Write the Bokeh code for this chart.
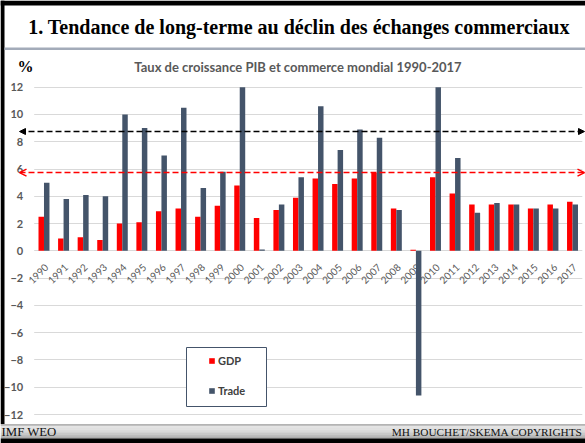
from math import pi
from bokeh.plotting import figure
from bokeh.models import (ColumnDataSource, Range1d, FixedTicker, BoxAnnotation,
                          Label, Legend, LegendItem, Arrow, NormalHead, OpenHead)
from bokeh.transform import dodge
from bokeh.core.properties import value
from bokeh.embed import file_html
from bokeh.resources import INLINE

# ---------------- data ----------------
years = [1990, 1991, 1992, 1993, 1994, 1995, 1996, 1997, 1998, 1999,
         2000, 2001, 2002, 2003, 2004, 2005, 2006, 2007, 2008, 2009,
         2010, 2011, 2012, 2013, 2014, 2015, 2016, 2017]
year_labels = ["1990", "1991", "1992", "1993", "1994", "1995", "1996", "1997", "1998", "1999",
               "2000", "2001", "2002", "2003", "2004", "2005", "2006", "2007", "2008", "2009",
               "2010", "2011", "2012", "2013", "2014", "2015", "2016", "2017"]
gdp = [2.5, 0.9, 1.0, 0.8, 2.0, 2.1, 2.9, 3.1, 2.5, 3.3,
       4.8, 2.4, 3.0, 3.9, 5.3, 4.9, 5.3, 5.7, 3.1, 0.08,
       5.4, 4.2, 3.4, 3.4, 3.4, 3.1, 3.4, 3.6]
trade = [5.0, 3.8, 4.1, 4.0, 10.0, 9.0, 7.0, 10.5, 4.6, 5.8,
         12.0, 0.1, 3.4, 5.4, 10.6, 7.4, 8.9, 8.3, 3.0, -10.6,
         12.0, 6.8, 2.8, 3.5, 3.4, 3.1, 3.1, 3.4]
y_ticks = [-12, -10, -8, -6, -4, -2, 0, 2, 4, 6, 8, 10, 12]
trade_ref_level = 8.75
gdp_ref_level = 5.74
series_names = ["GDP", "Trade"]

title_text = "1. Tendance de long-terme au déclin des échanges commerciaux"
chart_title = "Taux de croissance PIB et commerce mondial 1990-2017"
unit_text = "%"
source_text = "IMF WEO"
copyright_text = "MH BOUCHET/SKEMA COPYRIGHTS"

# ---------------- layout (canvas pixels) ----------------
W, H = 585, 443
PL, PR, PT, PB = 33.7, 581.8, 86.7, 414.0     # plot-area edges on the canvas
n = len(years)
px_per_year = (PR - PL) / n
px_per_unit = (PB - PT) / (y_ticks[-1] - y_ticks[0])
x_left_edge = years[0] - 0.5
x_lo = x_left_edge - PL / px_per_year
x_hi = x_left_edge + (W - PL) / px_per_year
y_lo = y_ticks[0] - (H - PB) / px_per_unit
y_hi = y_ticks[-1] + PT / px_per_unit


def cx(px):  # canvas px -> x data
    return x_lo + px / px_per_year


GDP_COLOR = "#ff0000"
TRADE_COLOR = "#44546a"
LABEL_GRAY = "#595959"

src = ColumnDataSource(dict(year=years, label=year_labels, gdp=gdp, trade=trade))

p = figure(width=W, height=H, x_range=Range1d(x_lo, x_hi), y_range=Range1d(y_lo, y_hi),
           output_backend="svg", toolbar_location=None, x_axis_location=None,
           min_border=0, min_border_left=0, min_border_right=0, min_border_top=0, min_border_bottom=0,
           outline_line_color=None, background_fill_color="white", border_fill_color="white")

p.yaxis.fixed_location = x_left_edge
p.yaxis.ticker = FixedTicker(ticks=y_ticks)
p.yaxis.axis_line_color = None
p.yaxis.major_tick_line_color = None
p.yaxis.minor_tick_line_color = None
p.yaxis.major_tick_out = 0
p.yaxis.major_tick_in = 0
p.yaxis.major_label_standoff = 11
p.yaxis.major_label_text_font = "Lato"
p.yaxis.major_label_text_font_style = "bold"
p.yaxis.major_label_text_font_size = "11px"
p.yaxis.major_label_text_color = LABEL_GRAY
p.ygrid.grid_line_color = "#d9d9d9"
p.xgrid.visible = False

TEXT_SHIFT = 5  # compensation for label baseline placement


def cbox(x0, y0, x1, y1, color, line=None, level="annotation"):
    return BoxAnnotation(left=x0, right=x1, top=H - y0, bottom=H - y1,
                         left_units="screen", right_units="screen",
                         top_units="screen", bottom_units="screen",
                         fill_color=color, fill_alpha=1.0, level=level,
                         line_color=line, line_alpha=1.0 if line else 0.0, line_width=1)


def clabel(x, y, text, font, size, style="normal", color="black", align="left", baseline="alphabetic"):
    return Label(x=x, y=H - (y - TEXT_SHIFT), x_units="screen", y_units="screen", text=text,
                 text_font=font, text_font_size=size, text_font_style=style,
                 text_color=color, text_align=align, text_baseline=baseline)


# keep gridlines inside the plot area
p.add_layout(cbox(0, 0, PL, H, "white", level="underlay"))
p.add_layout(cbox(PR, 0, W, H, "white", level="underlay"))

# year labels under the zero line
p.text(x="year", y=0, text="label", source=src, angle=pi / 4,
       text_align="center", text_baseline="middle", x_offset=-5.5, y_offset=23,
       text_font=value("Lato"), text_font_size="10px", text_color=LABEL_GRAY)

r_gdp = p.vbar(x=dodge("year", -0.14), top="gdp", width=0.28, source=src,
               fill_color=GDP_COLOR, line_color=None)
r_trade = p.vbar(x=dodge("year", 0.14), top="trade", width=0.28, source=src,
                 fill_color=TRADE_COLOR, line_color=None)

# reference dashed arrows
p.add_layout(Arrow(x_start=cx(19), y_start=trade_ref_level, x_end=cx(584), y_end=trade_ref_level,
                   start=NormalHead(size=6, fill_color="black", line_color="black"),
                   end=NormalHead(size=6, fill_color="black", line_color="black"),
                   line_color="black", line_width=1.5, line_dash="6 3"))
p.add_layout(Arrow(x_start=cx(19), y_start=gdp_ref_level, x_end=cx(584), y_end=gdp_ref_level,
                   start=OpenHead(size=7, line_color=GDP_COLOR, line_width=1.5),
                   end=OpenHead(size=7, line_color=GDP_COLOR, line_width=1.5),
                   line_color=GDP_COLOR, line_width=1.5, line_dash="6 3"))

# slide decorations
p.add_layout(cbox(0, 0, W, 5, "black"))
p.add_layout(cbox(0, 0, 4, 423.5, "black"))
p.add_layout(cbox(4, 47, W, 49.5, "#a3abb9"))
footer_cols = ["#b4b4b4", "#e4e4e4", "#e0e0e0", "#dadada", "#d2d2d2", "#c8c8c8", "#bcbcbc", "#acacac"]
f0, f1 = 423.5, 438.0
step = (f1 - f0) / len(footer_cols)
for i, c in enumerate(footer_cols):
    p.add_layout(cbox(0, f0 + i * step, W, f0 + (i + 1) * step + 0.3, c))
p.add_layout(cbox(0, f1, W, H, "black"))

p.add_layout(clabel(298.5, 31.5, title_text, "Liberation Serif", "20px", "bold", align="center"))
p.add_layout(clabel(17, 70.5, unit_text, "Liberation Serif", "16px", "bold"))
p.add_layout(clabel(297.5, 71, chart_title, "Lato", "13px", "bold", LABEL_GRAY, "center"))
p.add_layout(clabel(1, 436.5, source_text, "Liberation Serif", "12.8px", "normal", "#111111"))
p.add_layout(clabel(582, 436.5, copyright_text, "Liberation Serif", "11.3px", "normal", "#111111", "right"))

# legend
p.add_layout(cbox(186, 347, 266, 406, "white", TRADE_COLOR))
legend = Legend(items=[LegendItem(label=series_names[0], renderers=[r_gdp]),
                       LegendItem(label=series_names[1], renderers=[r_trade])],
                location=(208, H - 397), orientation="vertical",
                glyph_width=7, glyph_height=7, label_height=12, label_standoff=3,
                spacing=17, padding=0, margin=0, border_line_color=None,
                background_fill_alpha=0.0, label_text_font="Lato", label_text_font_style="bold",
                label_text_font_size="11px", label_text_color="#404040")
p.add_layout(legend, "center")

open("out.html", "w").write(file_html(p, INLINE))
